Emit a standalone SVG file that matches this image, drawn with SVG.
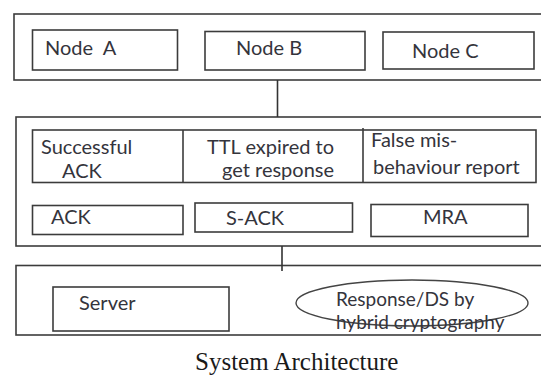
<svg xmlns="http://www.w3.org/2000/svg" width="541" height="376" viewBox="0 0 541 376">
  <style>
    .frame { fill: #ffffff; stroke: #3c3c3c; stroke-width: 1.6; }
    .box { fill: #ffffff; stroke: #3c3c3c; stroke-width: 1.6; }
    .cell { fill: none; stroke: #3c3c3c; stroke-width: 1.6; }
    .oval { fill: none; stroke: #444444; stroke-width: 1.4; }
    .link { fill: none; stroke: #333333; stroke-width: 1.6; }
    .label { font-family: Lato, "Open Sans", "Liberation Sans", sans-serif; font-size: 20px; fill: #34343c; white-space: pre; }
    .small { font-size: 19px; }
    .caption { font-family: "Liberation Serif", "Times New Roman", serif; font-size: 25px; fill: #1a1a1a; }
  </style>

  <rect width="541" height="376" fill="#ffffff"/>

  <!-- tier 1: network nodes -->
  <g id="tier-nodes">
    <rect class="frame" x="14" y="14" width="540" height="66"/>
    <g id="node-a">
      <rect class="box" x="32.5" y="30" width="145" height="40"/>
      <text class="label" x="45" y="55" xml:space="preserve">Node  A</text>
    </g>
    <g id="node-b">
      <rect class="box" x="205" y="31.5" width="160" height="38.5"/>
      <text class="label" x="236" y="55">Node B</text>
    </g>
    <g id="node-c">
      <rect class="box" x="383" y="32" width="151" height="37"/>
      <text class="label" x="412" y="58">Node C</text>
    </g>
  </g>

  <!-- tier 2: acknowledgement handling -->
  <g id="tier-ack">
    <rect class="frame" x="16" y="117" width="540" height="129"/>
    <g id="status-table">
      <rect class="cell" x="32.5" y="130" width="503.5" height="52.5"/>
      <line class="cell" x1="183" y1="130" x2="183" y2="182.5"/>
      <line class="cell" x1="363" y1="128" x2="363" y2="182.5"/>
      <text class="label" x="41" y="154">Successful</text>
      <text class="label" x="62" y="178">ACK</text>
      <text class="label" x="207" y="154">TTL expired to</text>
      <text class="label" x="222" y="177">get response</text>
      <text class="label" x="371" y="147">False mis-</text>
      <text class="label" x="373" y="174">behaviour report</text>
    </g>
    <g id="ack">
      <rect class="box" x="32.5" y="205.5" width="150.5" height="29"/>
      <text class="label" x="51" y="224">ACK</text>
    </g>
    <g id="s-ack">
      <rect class="box" x="195" y="203" width="157.5" height="29"/>
      <text class="label" x="226" y="225">S-ACK</text>
    </g>
    <g id="mra">
      <rect class="box" x="371" y="204.5" width="157" height="32"/>
      <text class="label" x="423" y="224">MRA</text>
    </g>
  </g>

  <!-- tier 3: server side -->
  <g id="tier-server">
    <rect class="frame" x="16" y="265.5" width="540" height="69.5"/>
    <g id="server">
      <rect class="box" x="53" y="287" width="176" height="44"/>
      <text class="label" x="79" y="310">Server</text>
    </g>
    <g id="response">
      <ellipse class="oval" cx="412" cy="303" rx="116" ry="23"/>
      <text class="label small" x="336" y="306">Response/DS by</text>
      <text class="label small" x="336" y="329">hybrid cryptography</text>
    </g>
  </g>

  <!-- connectors between tiers -->
  <g id="connectors">
    <line class="link" x1="277.5" y1="80" x2="277.5" y2="117"/>
    <line class="link" x1="282" y1="246" x2="282" y2="271"/>
  </g>

  <text class="caption" x="195" y="370">System Architecture</text>
</svg>
